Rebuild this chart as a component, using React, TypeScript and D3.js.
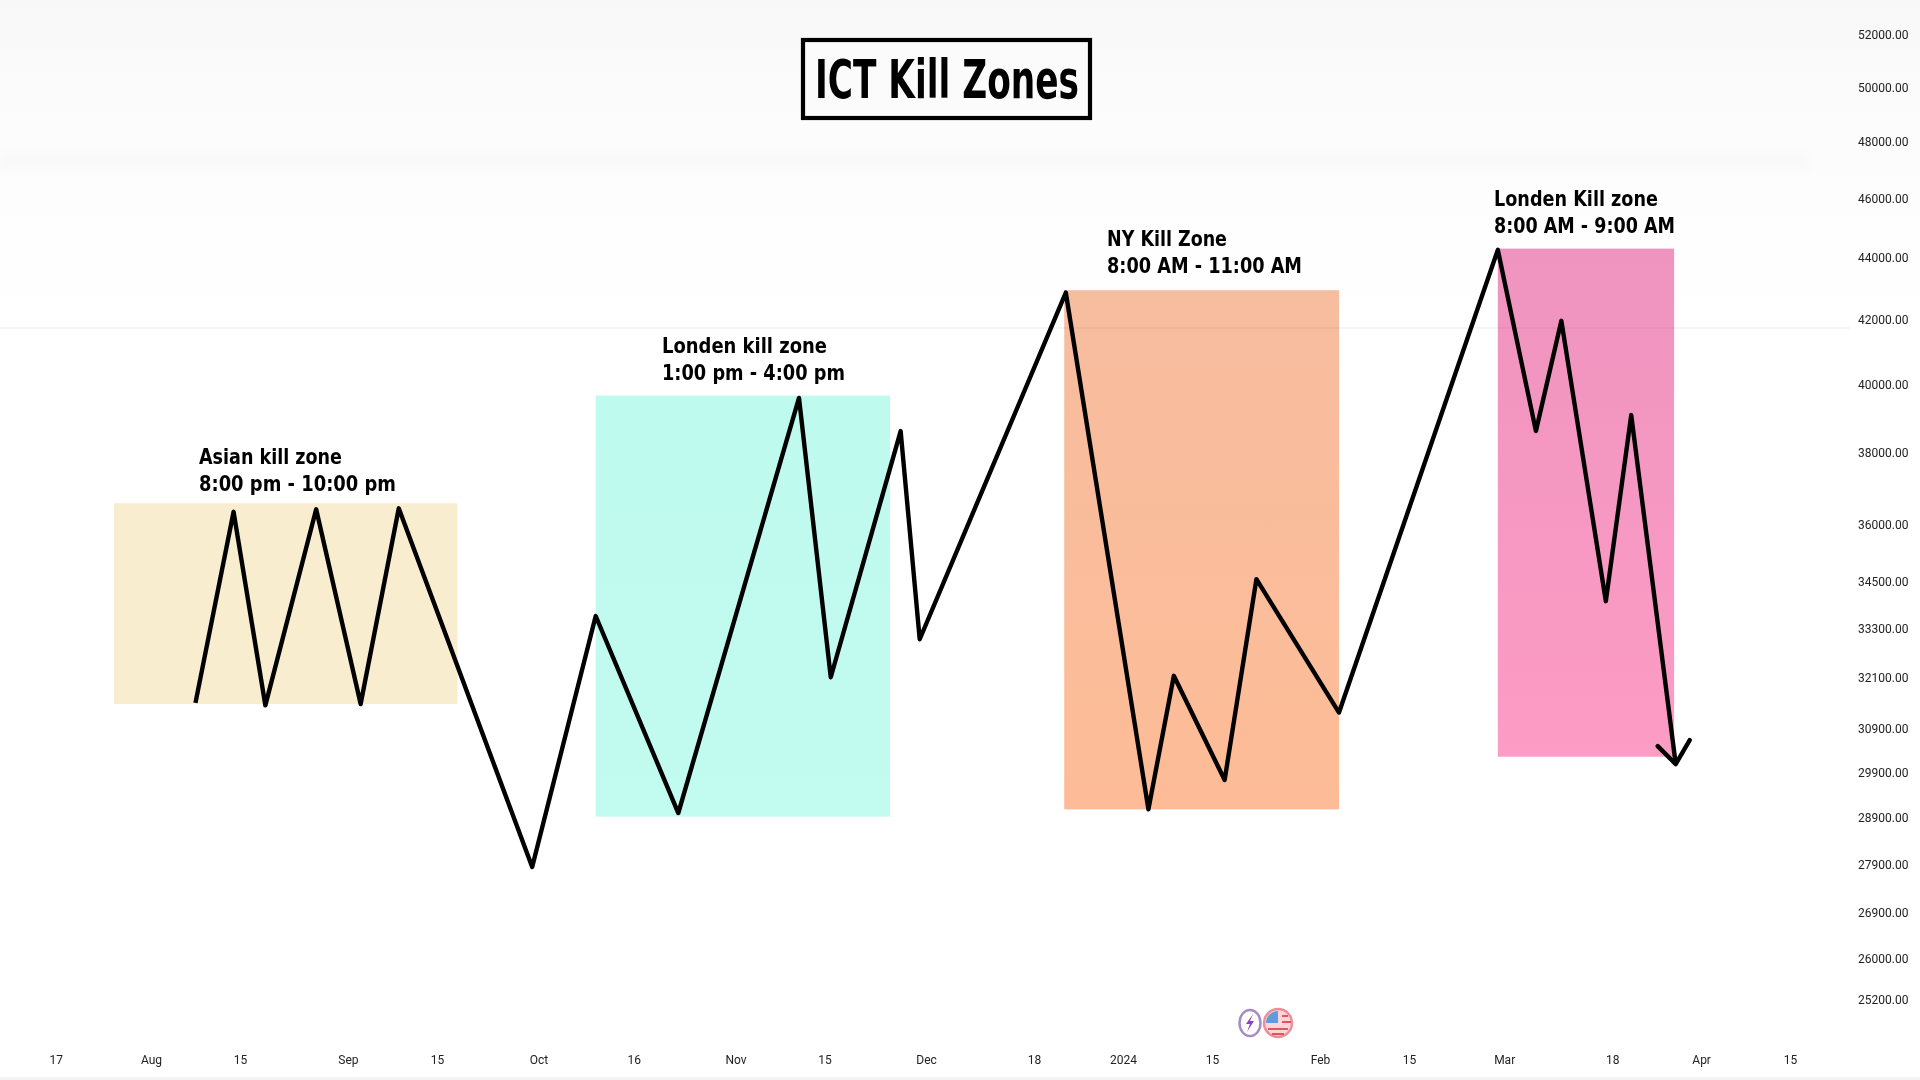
import * as d3 from 'd3';
import React, { useEffect, useRef } from 'react';

const priceDates = [
  '2023-08-08', '2023-08-14', '2023-08-19', '2023-08-27', '2023-09-03', '2023-09-09',
  '2023-09-30', '2023-10-10', '2023-10-23', '2023-11-11', '2023-11-16', '2023-11-27',
  '2023-11-30', '2023-12-23', '2024-01-05', '2024-01-09', '2024-01-17', '2024-01-22',
  '2024-02-04', '2024-02-29', '2024-03-06', '2024-03-10', '2024-03-17', '2024-03-21',
  '2024-03-28',
];
const priceValues = [
  31496, 36355, 31439, 36423, 31470, 36450,
  27845, 33619, 28997, 39600, 32109, 38625,
  33038, 42857, 29077, 32143, 29725, 34563,
  31269, 44255, 38625, 41960, 33995, 39093,
  30082,
];

const zoneNames = ['asian', 'london', 'ny', 'london2'];
const zoneStart = ['2023-07-26T04:00', '2023-10-10', '2023-12-22T18:00', '2024-02-29'];
const zoneEnd = ['2023-09-18T06:00', '2023-11-25T08:00', '2024-02-04', '2024-03-27T18:00'];
const zoneHigh = [36590, 39670, 42935, 44296];
const zoneLow = [31470, 28918, 29077, 30249];
const zoneTopColor = ['#f9edd0', '#bffaee', '#f7bd9f', '#ee94be'];
const zoneBottomColor = ['#f9edd0', '#c2fbf0', '#fdbc97', '#fd9cc5'];

const zoneLine1 = ['Asian kill zone', 'Londen kill zone', 'NY Kill Zone', 'Londen Kill zone'];
const zoneLine2 = ['8:00 pm - 10:00 pm', '1:00 pm - 4:00 pm', '8:00 AM - 11:00 AM', '8:00 AM - 9:00 AM'];

const yTicks = [
  52000, 50000, 48000, 46000, 44000, 42000, 40000, 38000, 36000, 34500,
  33300, 32100, 30900, 29900, 28900, 27900, 26900, 26000, 25200,
];
const xTickDates = [
  '2023-07-17', '2023-08-01', '2023-08-15', '2023-09-01', '2023-09-15', '2023-10-01', '2023-10-16',
  '2023-11-01', '2023-11-15', '2023-12-01', '2023-12-18', '2024-01-01', '2024-01-15', '2024-02-01',
  '2024-02-15', '2024-03-01', '2024-03-18', '2024-04-01', '2024-04-15',
];
const xTickLabels = [
  '17', 'Aug', '15', 'Sep', '15', 'Oct', '16', 'Nov', '15', 'Dec', '18', '2024', '15', 'Feb', '15',
  'Mar', '18', 'Apr', '15',
];

const day = (s: string) => new Date(s.length > 10 ? s + ':00Z' : s + 'T00:00:00Z');

// label placement: x offset, baseline and squeezed width of each line
const labelX = [199, 662, 1107, 1494];
const labelY = [464, 353, 246, 206];
const labelW1 = [143, 165, 120, 164];
const labelW2 = [197, 183, 195, 181];

const App: React.FC = () => {
  const svgRef = useRef<SVGSVGElement>(null);

  useEffect(() => {
    if (!svgRef.current) return;
    const svg = d3.select(svgRef.current);
    svg.selectAll('*').remove();

    const x = d3.scaleUtc().domain([day('2023-08-01'), day('2024-01-01')]).range([151, 1123]);
    const y = d3.scaleLog().domain([25200, 52000]).range([1000, 35]);

    const defs = svg.append('defs');
    const bg = defs.append('linearGradient').attr('id', 'bg').attr('x1', 0).attr('x2', 0).attr('y1', 0).attr('y2', 1);
    bg.append('stop').attr('offset', 0).attr('stop-color', '#f8f8f8');
    bg.append('stop').attr('offset', 0.12).attr('stop-color', '#fcfcfc');
    bg.append('stop').attr('offset', 0.3).attr('stop-color', '#ffffff');
    defs.append('filter').attr('id', 'soft').append('feGaussianBlur').attr('stdDeviation', 0.5);
    defs.append('filter').attr('id', 'haze')
      .attr('x', '-5%').attr('width', '110%').attr('y', '-100%').attr('height', '300%')
      .append('feGaussianBlur').attr('stdDeviation', 4);
    defs.append('filter').attr('id', 'caption').append('feGaussianBlur').attr('stdDeviation', 0.35);

    svg.append('rect').attr('width', 1920).attr('height', 1080).attr('fill', 'url(#bg)');
    svg.append('rect').attr('x', 0).attr('y', 153).attr('width', 1810).attr('height', 18)
      .attr('fill', '#f9f9f9').attr('filter', 'url(#haze)');
    svg.append('rect').attr('x', 0).attr('y', 1077).attr('width', 1920).attr('height', 3).attr('fill', '#f4f4f4');

    // zones
    zoneNames.forEach((name, i) => {
      const g = defs.append('linearGradient').attr('id', 'z-' + name).attr('x1', 0).attr('x2', 0).attr('y1', 0).attr('y2', 1);
      g.append('stop').attr('offset', 0).attr('stop-color', zoneTopColor[i]);
      g.append('stop').attr('offset', 1).attr('stop-color', zoneBottomColor[i]);
      const x0 = x(day(zoneStart[i]));
      const x1 = x(day(zoneEnd[i]));
      svg.append('rect')
        .attr('x', x0)
        .attr('y', y(zoneHigh[i]))
        .attr('width', x1 - x0)
        .attr('height', y(zoneLow[i]) - y(zoneHigh[i]))
        .attr('fill', `url(#z-${name})`);
    });

    // faint price line running across the whole pane, also over the zones
    svg.append('line').attr('x1', 0).attr('x2', 1850).attr('y1', 328).attr('y2', 328)
      .attr('stroke', '#000').attr('stroke-opacity', 0.05).attr('stroke-width', 1.5);

    // price path
    const points = priceDates.map((d, i) => ({ date: day(d), price: priceValues[i] }));
    const line = d3.line<{ date: Date; price: number }>().x(d => x(d.date)).y(d => y(d.price));
    svg.append('path')
      .datum(points)
      .attr('fill', 'none')
      .attr('stroke', '#000')
      .attr('stroke-width', 4.4)
      .attr('stroke-linejoin', 'round')
      .attr('d', line);

    // arrow head sits on the last point
    const last = points[points.length - 1];
    const tipX = x(last.date);
    const tipY = y(last.price);
    svg.append('path')
      .attr('fill', 'none')
      .attr('stroke', '#000')
      .attr('stroke-width', 4.4)
      .attr('stroke-linecap', 'round')
      .attr('stroke-linejoin', 'round')
      .attr('d', `M${tipX - 18},${tipY - 18}L${tipX},${tipY}L${tipX + 14},${tipY - 24}`);

    // zone captions
    const labelFont = '"DejaVu Sans Condensed", "DejaVu Sans", sans-serif';
    zoneLine1.forEach((t, i) => {
      [t, zoneLine2[i]].forEach((s, j) => {
        svg.append('text')
          .attr('x', labelX[i])
          .attr('y', labelY[i] + j * 27)
          .attr('font-family', labelFont)
          .attr('font-weight', 700)
          .attr('font-size', 22)
          .attr('textLength', j === 0 ? labelW1[i] : labelW2[i])
          .attr('lengthAdjust', 'spacingAndGlyphs')
          .attr('fill', '#000')
          .attr('filter', 'url(#caption)')
          .text(s);
      });
    });

    // title
    svg.append('rect').attr('x', 803).attr('y', 40).attr('width', 287).attr('height', 78)
      .attr('fill', '#fbfbfb').attr('stroke', '#000').attr('stroke-width', 4.2);
    svg.append('text')
      .attr('x', 815).attr('y', 98)
      .attr('font-family', labelFont)
      .attr('font-weight', 700)
      .attr('font-size', 54)
      .attr('textLength', 264)
      .attr('lengthAdjust', 'spacingAndGlyphs')
      .attr('fill', '#000')
      .attr('filter', 'url(#caption)')
      .text('ICT Kill Zones');

    // axes
    const yAxis = d3.axisRight(y).tickValues(yTicks).tickSize(0).tickPadding(0)
      .tickFormat(d => d3.format('.2f')(d as number));
    const yG = svg.append('g').attr('transform', 'translate(1858,0)').call(yAxis as any);
    yG.select('.domain').remove();
    yG.selectAll('text')
      .attr('font-family', 'Roboto, sans-serif').attr('font-size', 12).attr('fill', '#222')
      .attr('filter', 'url(#soft)');

    const xAxis = d3.axisBottom(x).tickValues(xTickDates.map(day)).tickSize(0).tickPadding(0)
      .tickFormat((_, i) => xTickLabels[i]);
    const xG = svg.append('g').attr('transform', 'translate(0,1055)').call(xAxis as any);
    xG.select('.domain').remove();
    xG.selectAll('text')
      .attr('font-family', 'Roboto, sans-serif').attr('font-size', 12).attr('fill', '#222')
      .attr('filter', 'url(#soft)');

    // event badges above the time axis
    const badges = svg.append('g').attr('filter', 'url(#soft)');
    badges.append('ellipse').attr('cx', 1250).attr('cy', 1023).attr('rx', 10.5).attr('ry', 13)
      .attr('fill', '#fff').attr('stroke', '#a58bc8').attr('stroke-width', 2.5);
    badges.append('path').attr('d', 'M1253,1014L1246,1024L1250,1024L1247,1032L1254,1021L1250,1021Z').attr('fill', '#8e3fc0');
    badges.append('circle').attr('cx', 1278).attr('cy', 1023).attr('r', 14)
      .attr('fill', '#fbd5d8').attr('stroke', '#ec8f97').attr('stroke-width', 2.5);
    badges.append('path').attr('d', 'M1266,1023A12,12 0 0 1 1278,1011L1278,1023Z').attr('fill', '#5d9ce0');
    badges.append('path').attr('d', 'M1268,1029L1288,1029M1272,1034L1284,1034M1282,1016L1288,1016M1282,1022L1291,1022')
      .attr('stroke', '#e0525f').attr('stroke-width', 2.2);
  }, []);

  return (
    <svg
      ref={svgRef}
      width={1920}
      height={1080}
      style={{ position: 'fixed', left: 0, top: 0, display: 'block' }}
    />
  );
};

export default App;
